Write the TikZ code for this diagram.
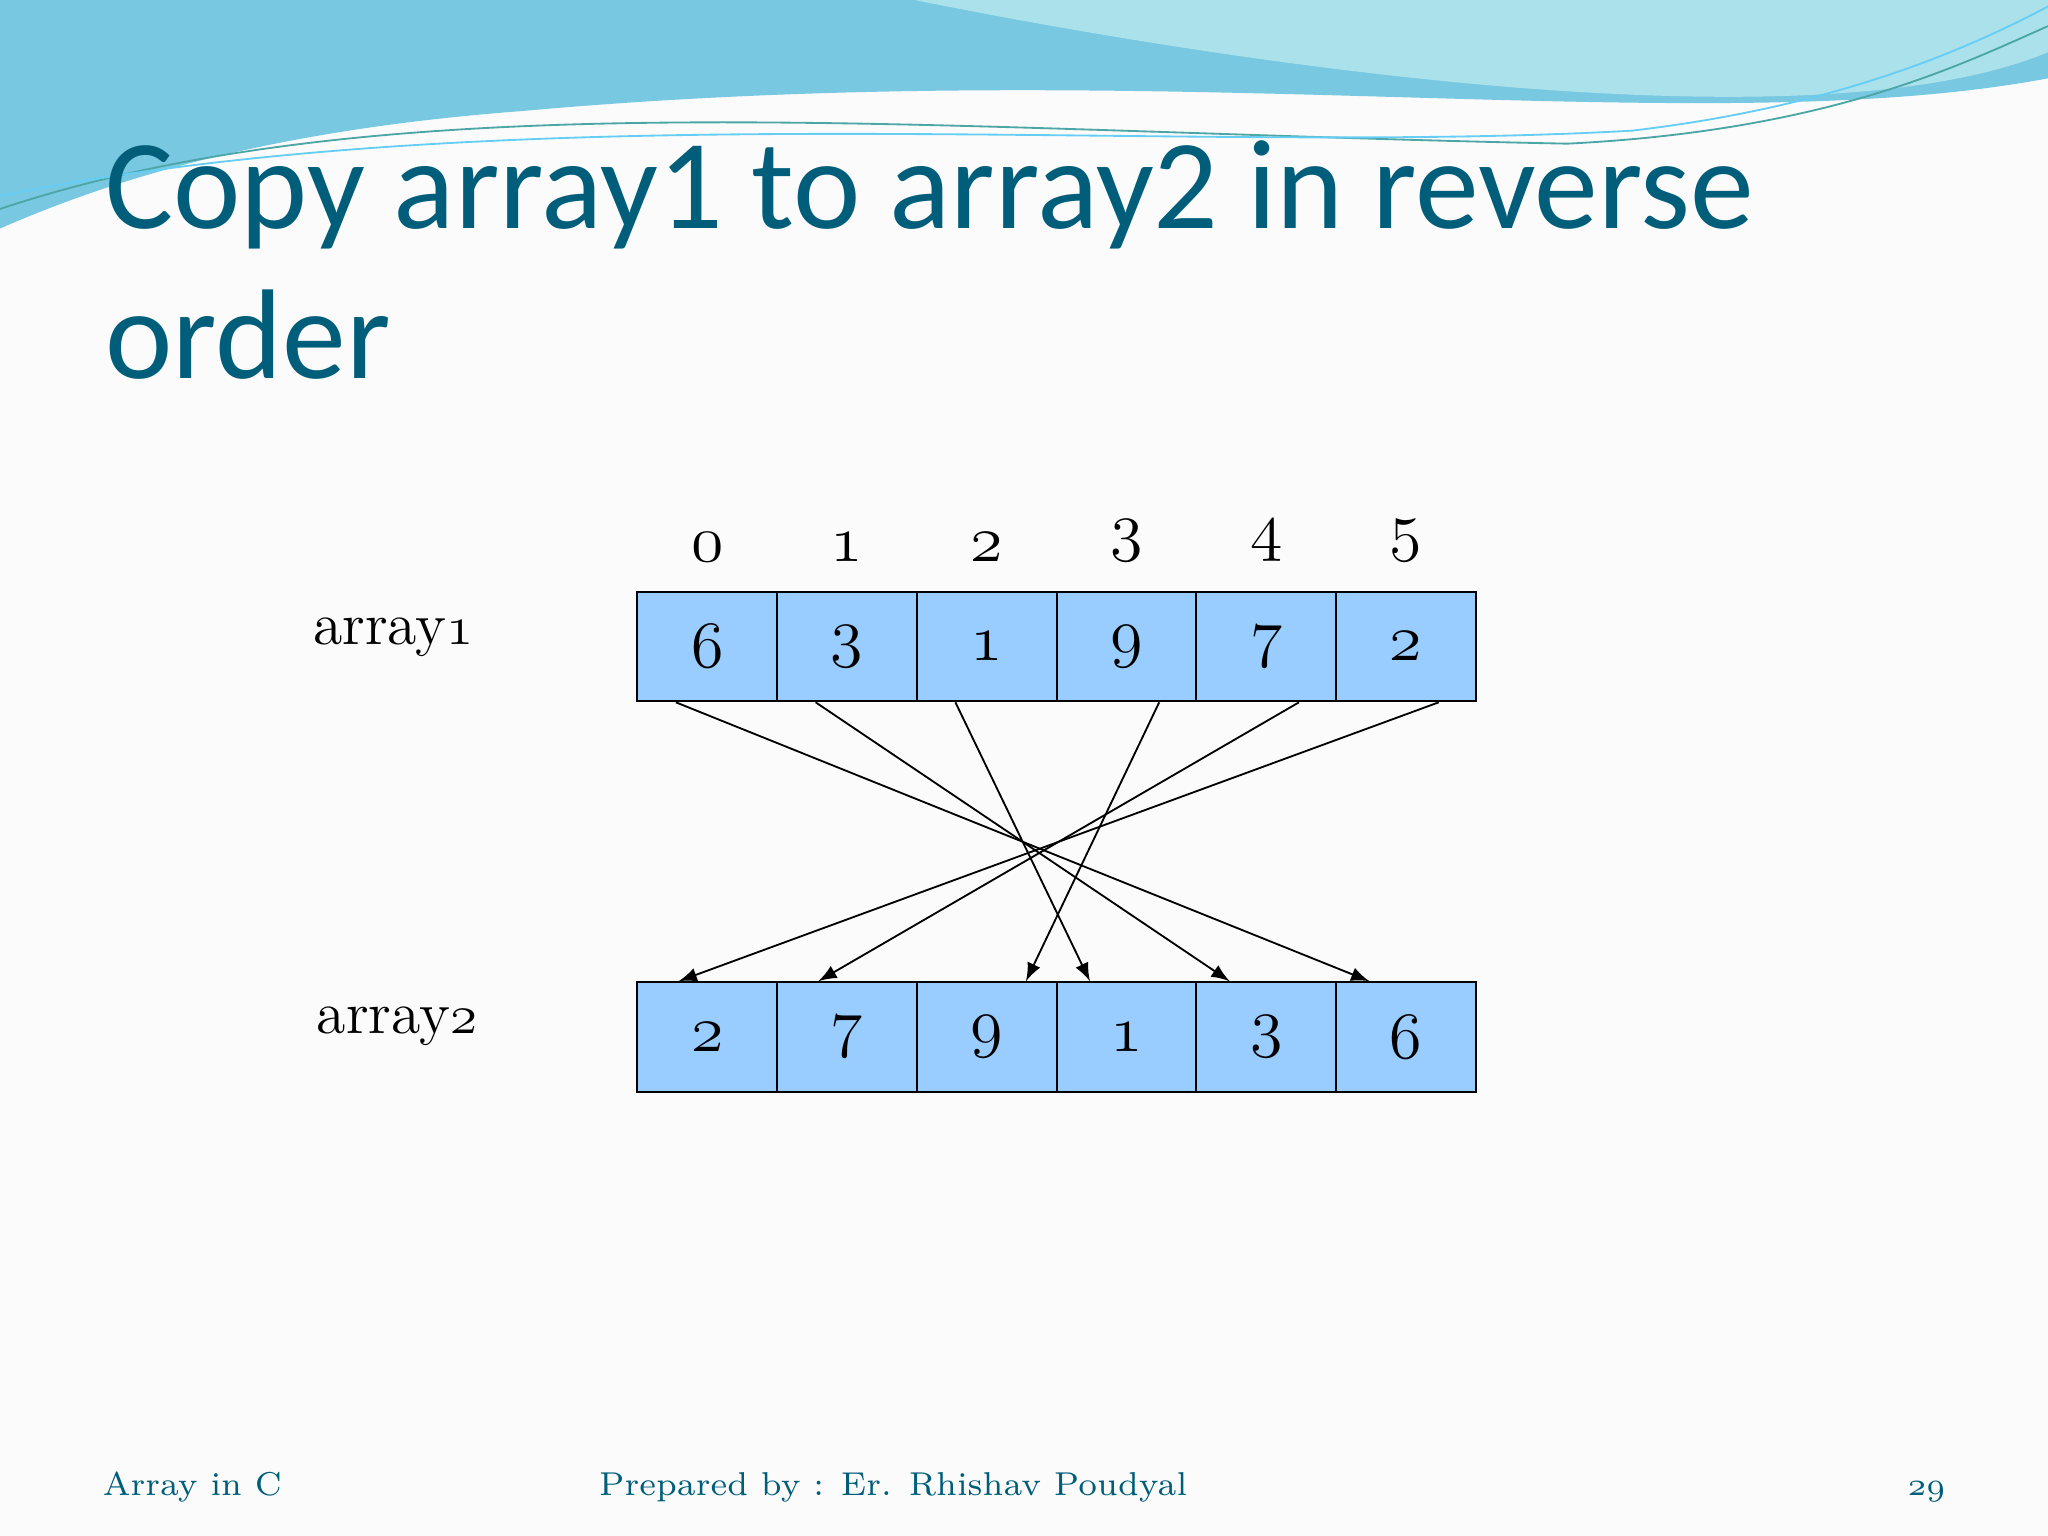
\documentclass[tikz,border=0pt]{standalone}
\usepackage{fontspec}
\newfontfamily\titlefont{Carlito}
\usetikzlibrary{positioning,arrows}
\definecolor{titleblue}{RGB}{0,94,122}
\definecolor{cellblue}{RGB}{153,204,255}
\definecolor{waveA}{RGB}{120,200,225}
\definecolor{waveB}{RGB}{170,225,235}
\newcommand{\osn}[1]{$\mathnormal{#1}$}
\tikzset{
  cell/.style={draw, fill=cellblue, minimum width=1.07cm, minimum height=0.84cm, inner sep=0pt, font=\fontsize{15}{15}\selectfont},
  idx/.style={font=\fontsize{15}{15}\selectfont},
  copyarrow/.style={->, >=latex, thin},
}
\begin{document}
\begin{tikzpicture}[x=0.01cm,y=-0.01cm]
\useasboundingbox (0,0) rectangle (1568,1176);
\fill[white!97!gray] (0,0) rectangle (1568,1176);
% header waves
\fill[waveA] (0,0) -- (1568,0) -- (1568,60) .. controls (1300,110) and (900,40) .. (400,85) .. controls (200,100) and (80,140) .. (0,175) -- cycle;
\fill[waveB] (700,0) -- (1568,0) -- (1568,40) .. controls (1400,110) and (1000,60) .. (700,0) -- cycle;
\draw[teal!70, thin] (0,160) .. controls (300,60) and (700,100) .. (1200,110) .. controls (1400,100) and (1500,50) .. (1568,20);
\draw[cyan!60, thin] (0,150) .. controls (400,70) and (900,120) .. (1250,100) .. controls (1420,80) and (1520,30) .. (1568,5);
% title
\node[anchor=base west, inner sep=0pt, text=titleblue, font=\titlefont\fontsize{27.8}{27.8}\selectfont] (title1) at (80,175) {Copy array1 to array2 in reverse};
\node[anchor=base west, inner sep=0pt, text=titleblue, font=\titlefont\fontsize{27.8}{27.8}\selectfont] (title2) at (80,290) {order};
% arrays
\node[font=\fontsize{13}{13}\selectfont] (lab1) at (301,488) {array\osn{1}};
\node[font=\fontsize{13}{13}\selectfont] (lab2) at (304,786) {array\osn{2}};
\foreach \i/\a/\b in {0/6/2,1/3/7,2/1/9,3/9/1,4/7/3,5/2/6}{
  \node[cell] (a\i) at ({541.5+107*\i},495) {\osn{\a}};
  \node[cell] (b\i) at ({541.5+107*\i},794) {\osn{\b}};
  \node[idx, above=0.1cm of a\i] (n\i) {\osn{\i}};
}
% copy in reverse
\foreach \i/\s/\j/\e in {0/-24/5/-28,1/-24/4/-28,2/-24/3/-28,3/25/2/30,4/25/1/-22,5/25/0/-22}{
  \draw[copyarrow] ([xshift=\s*0.01cm]a\i.south) -- ([xshift=\e*0.01cm]b\j.north);
}
% footer
\node[anchor=base west, inner sep=0pt, text=titleblue, font=\fontsize{7.2}{7.2}\selectfont] (foot1) at (78,1145) {Array in C};
\node[anchor=base west, inner sep=0pt, text=titleblue, font=\fontsize{7.2}{7.2}\selectfont] (foot2) at (458,1145) {Prepared by : Er. Rhishav Poudyal};
\node[anchor=base east, inner sep=0pt, text=titleblue, font=\fontsize{7.2}{7.2}\selectfont] (foot3) at (1490,1145) {\osn{29}};
\end{tikzpicture}
\end{document}
